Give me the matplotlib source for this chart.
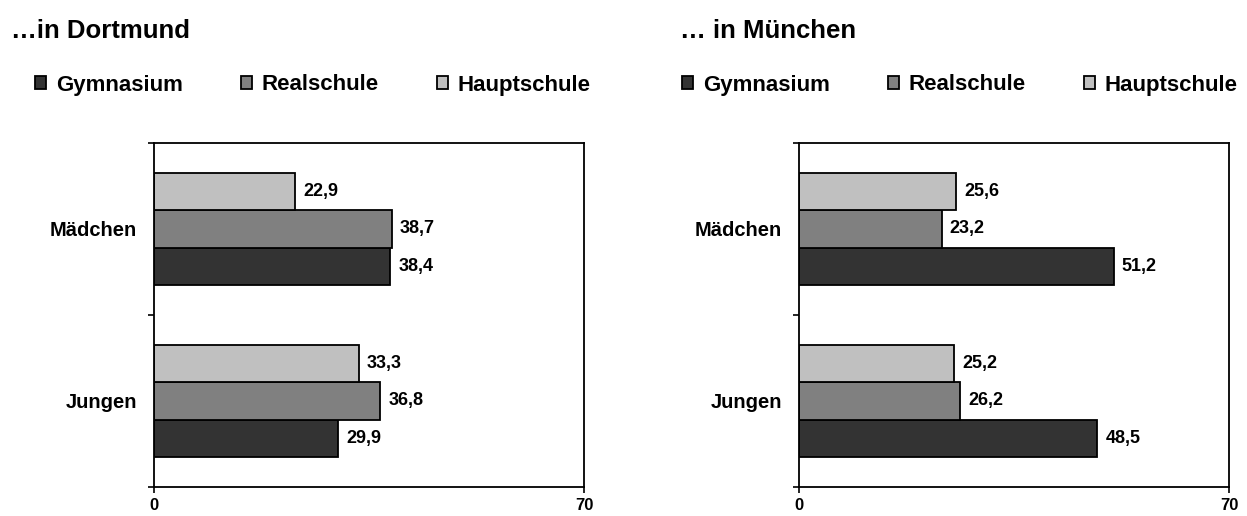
import matplotlib
matplotlib.use('Agg')
import matplotlib.pyplot as plt
import numpy as np

plt.rcParams['font.family'] = ['Liberation Sans', 'DejaVu Sans']
plt.rcParams['font.weight'] = 'bold'

# data
categories = ['Jungen', 'Mädchen']
schools = ['Gymnasium', 'Realschule', 'Hauptschule']
colors = ['#333333', '#808080', '#c0c0c0']
dortmund = {'Gymnasium': [29.9, 38.4],
            'Realschule': [36.8, 38.7],
            'Hauptschule': [33.3, 22.9]}
muenchen = {'Gymnasium': [48.5, 51.2],
            'Realschule': [26.2, 23.2],
            'Hauptschule': [25.2, 25.6]}
titles = ['…in Dortmund', '… in München']
xticks = [0, 70]

W, H = 1247, 516
fig = plt.figure(figsize=(W / 100, H / 100), dpi=100)

bar_h = 0.218
offsets = [-bar_h, 0, bar_h]
axes_px = [154, 799]
title_px = [11, 680]
legend_px = [35, 682]

for k, data in enumerate([dortmund, muenchen]):
    ax = fig.add_axes([axes_px[k] / W, 29 / H, 430 / W, 344 / H])
    y = np.arange(len(categories))
    for i, s in enumerate(schools):
        bars = ax.barh(y + offsets[i], data[s], height=bar_h, color=colors[i],
                       edgecolor='black', linewidth=1.3, label=s)
        ax.bar_label(bars, labels=[f"{v:.1f}".replace('.', ',') for v in data[s]],
                     padding=6, fontsize=13, fontweight='bold')
    ax.set_xlim(0, 70)
    ax.set_ylim(-0.5, 1.5)
    ax.set_xticks(xticks)
    ax.set_xticklabels([str(t) for t in xticks], fontsize=12, fontweight='bold')
    ax.set_yticks([-0.5, 0.5, 1.5])
    ax.set_yticklabels([])
    ax.set_yticks(y, minor=True)
    ax.set_yticklabels(categories, minor=True, fontsize=14.5, fontweight='bold')
    ax.tick_params(axis='y', which='major', direction='out', length=4, width=1.2)
    ax.tick_params(axis='y', which='minor', length=0, pad=12)
    ax.tick_params(axis='x', direction='out', length=4, width=1.2, pad=4)
    for sp in ax.spines.values():
        sp.set_linewidth(1.3)
        sp.set_color('black')

    fig.text(title_px[k] / W, 1 - 31 / H, titles[k], fontsize=18.5,
             fontweight='bold', ha='left', va='center')

    handles, labels = ax.get_legend_handles_labels()
    leg = fig.legend(handles, labels, loc='center left',
                     bbox_to_anchor=(legend_px[k] / W, 1 - 85 / H),
                     ncol=3, frameon=False, fontsize=16,
                     handlelength=0.5, handleheight=0.5, handletextpad=0.45,
                     columnspacing=2.6, borderpad=0, borderaxespad=0)
    for t in leg.get_texts():
        t.set_fontweight('bold')

fig.savefig('out.png', dpi=100)
